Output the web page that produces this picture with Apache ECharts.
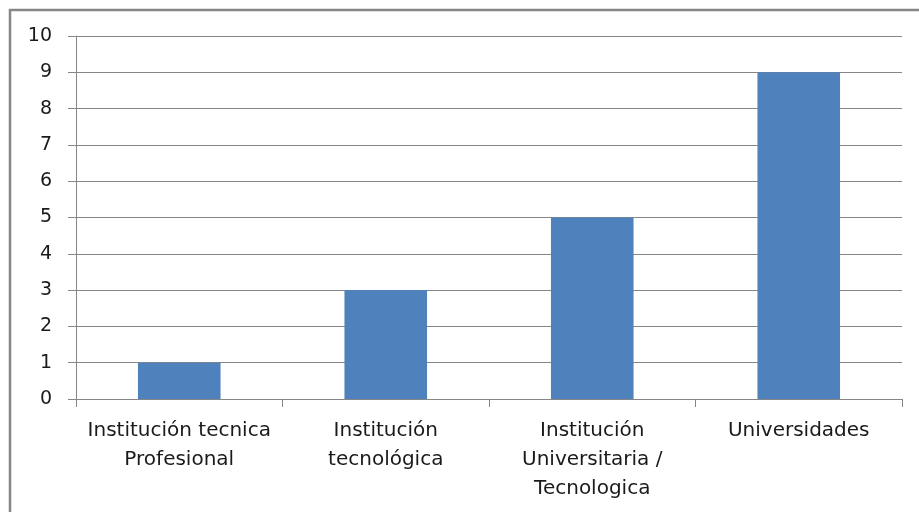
<!DOCTYPE html>
<html>
<head>
<meta charset="utf-8">
<script src="https://cdn.jsdelivr.net/npm/echarts@6/dist/echarts.min.js"></script>
<style>html,body{margin:0;padding:0;background:#fff;}#c{width:919px;height:512px;}</style>
</head>
<body>
<div id="c"></div>
<script>
const categories = ["Institución tecnica\nProfesional", "Institución\ntecnológica", "Institución\nUniversitaria /\nTecnologica", "Universidades"];
const values = [1, 3, 5, 9];
const yTicks = [0, 1, 2, 3, 4, 5, 6, 7, 8, 9, 10];

const chart = echarts.init(document.getElementById('c'), null, {renderer: 'canvas'});
const font = 'DejaVu Sans';
chart.setOption({
  animation: false,
  backgroundColor: '#ffffff',
  graphic: [{
    type: 'rect',
    shape: {x: 10, y: 10, width: 930, height: 530},
    style: {fill: 'none', stroke: '#868686', lineWidth: 2.5},
    silent: true
  }],
  grid: {left: 76, right: 17, top: 36, bottom: 113, containLabel: false},
  xAxis: {
    type: 'category',
    data: categories,
    axisLine: {lineStyle: {color: '#868686', width: 1}},
    axisTick: {show: true, alignWithLabel: false, length: 8, lineStyle: {color: '#868686'}},
    axisLabel: {interval: 0, color: '#1a1a1a', fontFamily: font, fontSize: 20, lineHeight: 29, margin: 17}
  },
  yAxis: {
    type: 'value',
    min: yTicks[0], max: yTicks[yTicks.length - 1], interval: 1,
    axisLine: {show: true, lineStyle: {color: '#868686', width: 1}},
    axisTick: {show: true, length: 8, lineStyle: {color: '#868686'}},
    splitLine: {show: true, lineStyle: {color: '#868686', width: 1}},
    axisLabel: {color: '#1a1a1a', fontFamily: font, fontSize: 19, margin: 24}
  },
  series: [{
    type: 'bar',
    data: values,
    barWidth: '40%',
    itemStyle: {color: '#4F81BD'}
  }]
});
</script>
</body>
</html>
